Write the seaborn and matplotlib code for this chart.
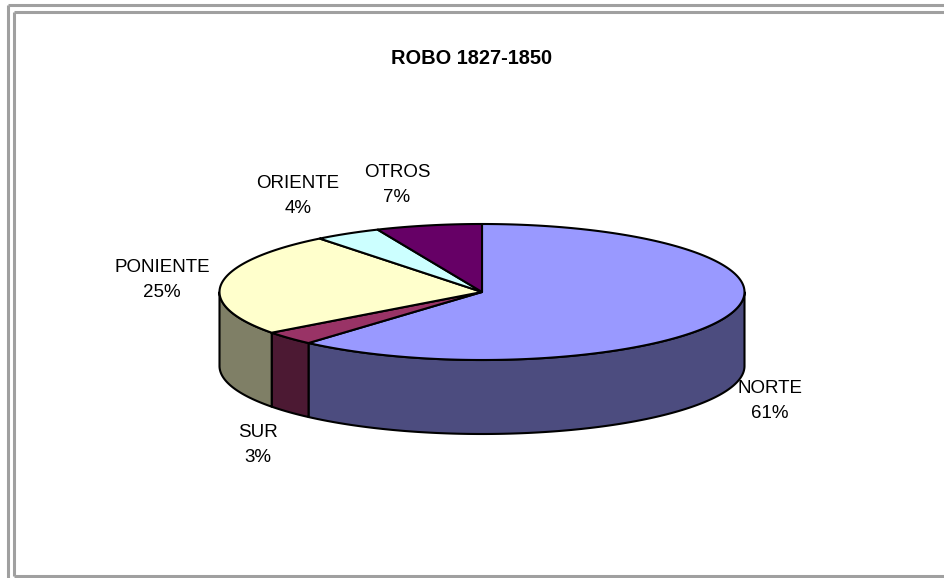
import matplotlib
matplotlib.use('Agg')

import matplotlib.pyplot as plt
import numpy as np
import seaborn as sns
from matplotlib.patches import Polygon

sns.set_theme(style="white")
plt.rcParams['font.family'] = ['Liberation Sans', 'DejaVu Sans']

# data (slice sizes,
# labels show them rounded)
regions = ["NORTE", "SUR", "PONIENTE", "ORIENTE", "OTROS"]
shares = [61.49, 3.3, 24.6, 4.1, 6.51]
top_colors = sns.color_palette(["#9999FF", "#993366", "#FFFFCC", "#CCFFFF", "#660066"])
side_colors = sns.color_palette(["#4C4C7F", "#4C1933", "#7F7F66", "#667F7F", "#330033"])
label_pos = [(770, 401), (258, 445), (162, 280), (298, 196), (397, 185)]

# pie geometry in pixel coords (y down)
cx, cy, rx, ry, depth = 482, 292, 262.5, 68, 74

fig = plt.figure(figsize=(9.45, 5.78), dpi=100)
ax = fig.add_axes([0, 0, 1, 1])
ax.set_xlim(0, 945)
ax.set_ylim(578, 0)
ax.axis('off')


def arc(t0, t1, n=200, dy=0):
    t = np.radians(np.linspace(t0, t1, n))
    return cx + rx * np.cos(t), cy - ry * np.sin(t) + dy


fracs = np.array(shares) / sum(shares)
bounds = 90 - 360 * np.concatenate([[0], np.cumsum(fracs)])

# visible side walls (front half of the ellipse)
for i in range(len(shares)):
    a, b = bounds[i + 1], bounds[i]
    for lo, hi in [(-180, 0), (-540, -360)]:
        s, e = max(a, lo), min(b, hi)
        if e <= s:
            continue
        x, y = arc(s, e)
        xs = np.concatenate([x, x[::-1]])
        ys = np.concatenate([y, (y + depth)[::-1]])
        ax.add_patch(Polygon(np.column_stack([xs, ys]), closed=True,
                             fc=side_colors[i], ec='black', lw=1.5, joinstyle='round'))

# top surface
for i in range(len(shares)):
    x, y = arc(bounds[i], bounds[i + 1])
    xs = np.concatenate([[cx], x])
    ys = np.concatenate([[cy], y])
    ax.add_patch(Polygon(np.column_stack([xs, ys]), closed=True,
                         fc=top_colors[i], ec='black', lw=1.5, joinstyle='round'))

for name, val, (lx, ly) in zip(regions, shares, label_pos):
    ax.text(lx, ly, f"{name}\n{round(val):d}%", ha='center', va='center',
            fontsize=13.5, linespacing=1.6, color='black')

ax.text(472, 58, "ROBO 1827-1850", ha='center', va='center',
        fontsize=14.4, fontweight='bold', color='black')

# double grey frame
fc = "#a0a0a0"
lw = 2.2
ax.plot([8, 8], [5, 578], color=fc, lw=lw, solid_capstyle='butt')
ax.plot([8, 945], [5, 5], color=fc, lw=lw, solid_capstyle='butt')
ax.plot([14, 14], [12, 576], color=fc, lw=lw, solid_capstyle='butt')
ax.plot([14, 945], [12, 12], color=fc, lw=lw, solid_capstyle='butt')
ax.plot([14, 945], [576, 576], color=fc, lw=lw, solid_capstyle='butt')

fig.savefig('out.png', dpi=100)
